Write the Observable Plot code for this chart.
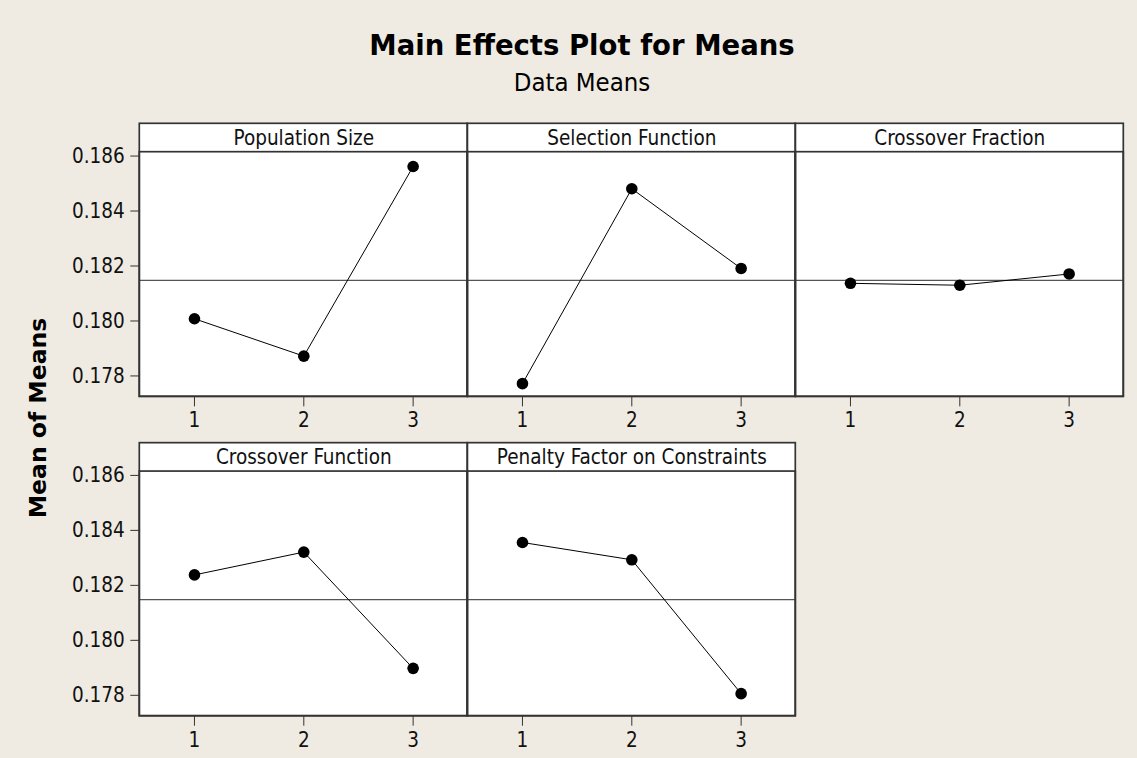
<!DOCTYPE html>
<html>
<head>
<meta charset="utf-8">
<script src="https://cdn.jsdelivr.net/npm/d3@7"></script>
<script src="https://cdn.jsdelivr.net/npm/@observablehq/plot@0.6"></script>
<style>
  html, body { margin: 0; padding: 0; background: #EFEBE2; }
  #wrap { position: relative; width: 1137px; height: 758px; overflow: hidden; background: #EFEBE2; }
  #head { position: relative; height: 100px; }
  #title { position: absolute; left: 27px; width: 1110px; top: 31.5px; text-align: center;
           font-family: "DejaVu Sans", sans-serif; font-weight: bold; font-size: 27.5px; line-height: 1; color: #000; }
  #subtitle { position: absolute; left: 27px; width: 1110px; top: 70px; text-align: center;
           font-family: "DejaVu Sans Condensed", "DejaVu Sans", sans-serif; font-size: 25.5px; line-height: 1; color: #000; }
  #ylabel { position: absolute; left: 39px; top: 418px; transform: translate(-50%, -50%) rotate(-90deg);
           font-family: "DejaVu Sans", sans-serif; font-weight: bold; font-size: 23.5px; line-height: 1; white-space: nowrap; color: #000; }
  svg { display: block; }
</style>
</head>
<body>
<div id="wrap">
  <div id="head">
    <div id="title">Main Effects Plot for Means</div>
    <div id="subtitle">Data Means</div>
  </div>
  <div id="chart"></div>
  <div id="ylabel">Mean of Means</div>
</div>
<script>
// ---- data ----
const factors = ["Population Size", "Selection Function", "Crossover Fraction", "Crossover Function", "Penalty Factor on Constraints"];
const levels = [1, 2, 3];
const populationSize    = [0.18008, 0.17872, 0.18562];
const selectionFunction = [0.17772, 0.18481, 0.18191];
const crossoverFraction = [0.18137, 0.18130, 0.18171];
const crossoverFunction = [0.18238, 0.18321, 0.17898];
const penaltyFactor     = [0.18356, 0.18293, 0.17806];
const grandMean = 0.18148;
const yTicks = [0.178, 0.180, 0.182, 0.184, 0.186];
const xTicks = [1, 2, 3];

const seriesValues = [populationSize, selectionFunction, crossoverFraction, crossoverFunction, penaltyFactor];
const panels = factors.map((name, i) => ({name, col: i % 3, row: Math.floor(i / 3), mean: grandMean}));
const points = panels.flatMap((p, i) => levels.map((lv, j) => ({name: p.name, col: p.col, row: p.row, level: lv, value: seriesValues[i][j]})));
const tickRows = panels.flatMap(p => xTicks.map(t => ({col: p.col, row: p.row, t})));

const FONT = "'DejaVu Sans Condensed', 'DejaVu Sans', sans-serif";
const HEADER = 28.4;
const chart = Plot.plot({
  width: 1137,
  height: 658,
  marginTop: 51.7,
  marginBottom: 42.3,
  marginLeft: 139.3,
  marginRight: 13.7,
  style: {background: "transparent", fontFamily: FONT, fontSize: "20.5px", color: "#111"},
  fx: {domain: [0, 1, 2], axis: null, padding: 0, round: false},
  fy: {domain: [0, 1], axis: null, paddingInner: 0.234, paddingOuter: 0, round: false},
  x: {domain: [0.5, 3.5], axis: null},
  y: {domain: [0.17724, 0.18614], axis: null},
  marks: [
    Plot.rect(panels, {fx: "col", fy: "row", fill: "white", insetTop: -HEADER}),
    Plot.ruleY(panels, {fx: "col", fy: "row", y: "mean", stroke: "#555", strokeWidth: 1.3}),
    Plot.line(points, {fx: "col", fy: "row", x: "level", y: "value", z: "name", stroke: "#000", strokeWidth: 1}),
    Plot.dot(points, {fx: "col", fy: "row", x: "level", y: "value", r: 5.8, fill: "#000", stroke: null}),
    Plot.rect(panels, {fx: "col", fy: "row", fill: "none", stroke: "#333", strokeWidth: 1.7}),
    Plot.rect(panels, {fx: "col", fy: "row", fill: "none", stroke: "#333", strokeWidth: 1.7, insetTop: -HEADER}),
    Plot.text(panels, {fx: "col", fy: "row", text: "name", frameAnchor: "top", lineAnchor: "middle", dy: -HEADER / 2, fontSize: 20.5, fill: "#111"}),
    Plot.axisX(tickRows, {x: "t", fx: "col", fy: "row", anchor: "bottom", facetAnchor: null, tickSize: 10, tickPadding: 6,
      tickFormat: (d) => String(d != null && typeof d === "object" ? d.t : d), label: null, stroke: "#333", fontSize: 20.5, color: "#111"}),
    Plot.axisY(yTicks, {anchor: "left", facetAnchor: "left", tickSize: 9, tickPadding: 6, tickFormat: d3.format(".3f"), label: null, stroke: "#333", fontSize: 20.5, color: "#111"})
  ]
});
document.getElementById("chart").appendChild(chart);
</script>
</body>
</html>
